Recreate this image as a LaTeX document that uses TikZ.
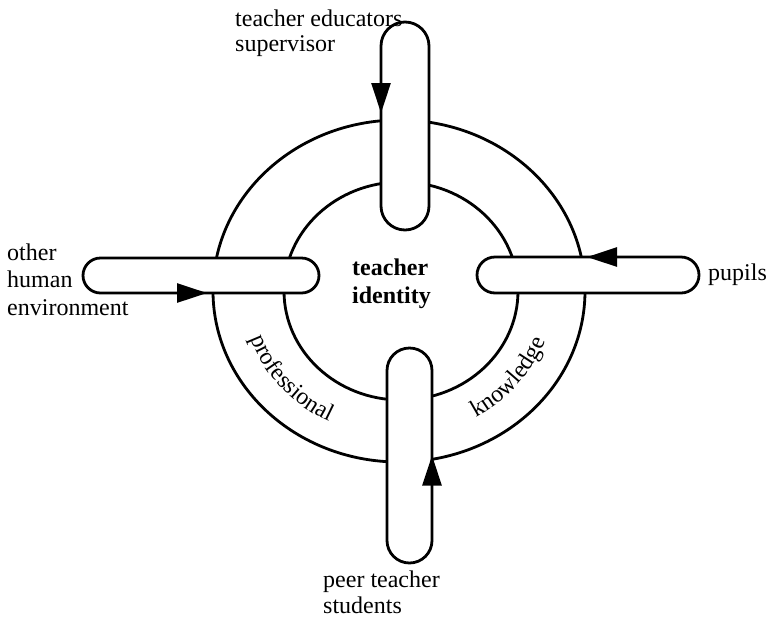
\documentclass[tikz,border=0pt]{standalone}
\usepackage{fontspec}
\setmainfont{Liberation Serif}
\usepackage{tikz}
\usetikzlibrary{arrows.meta,decorations.text}

\newcommand{\curvefont}{\fontsize{24}{24}\selectfont}

\tikzset{
  pill/.style={draw=black,fill=white,line width=2.8pt,rounded corners=#1,inner sep=0pt,outer sep=0pt},
  flow/.style={-{Triangle[length=30pt,width=19pt]},line width=2.8pt},
  lbl/.style={inner sep=0pt,align=left,anchor=north west}
}

\begin{document}
\begin{tikzpicture}[x=1pt,y=1pt]
    \useasboundingbox (0,0) rectangle (773,-622);
    \coordinate (c) at (399,-291);
    \coordinate (ci) at (401,-291);
    % ring
    \draw[line width=2.8pt] (c) ellipse [x radius=186, y radius=171];
    \draw[line width=2.8pt] (ci) ellipse [x radius=117, y radius=109];
    \path[decorate,decoration={text along path,text align=center,text={|\curvefont|professional}}]
        ([shift={(189:157 and 146)}]c) arc [start angle=189, end angle=253, x radius=157, y radius=146];
    \path[decorate,decoration={text along path,text align=center,text={|\curvefont|knowledge}}]
        ([shift={(-72:156 and 145)}]c) arc [start angle=-72, end angle=-8, x radius=156, y radius=145];
    % the four pills
    \node[pill=24pt,minimum width=48pt,minimum height=208pt] (sup) at (405,-126) {};
    \node[pill=17.5pt,minimum width=236pt,minimum height=35pt] (env) at (201,-275.5) {};
    \node[pill=18pt,minimum width=222pt,minimum height=36pt] (pup) at (588,-275) {};
    \node[pill=22.5pt,minimum width=45pt,minimum height=215pt] (peer) at (409.5,-455.5) {};
    \path [flow] ([yshift=43pt]sup.west) edge ([yshift=13pt]sup.west);
    \path [flow] ([xshift=-28pt]env.south) edge ([xshift=6pt]env.south);
    \path [flow] ([xshift=27pt]pup.north) edge ([xshift=-1pt]pup.north);
    \path [flow] ([yshift=-35pt]peer.east) edge (peer.east);
    % labels
    \node[lbl,font=\fontsize{24}{25}\selectfont] (edutext) at (235,-9.5) {teacher educators\\supervisor};
    \node[lbl,font=\fontsize{24}{27.5}\selectfont] (envtext) at (7,-243.6) {other\\human\\environment};
    \node[inner sep=0pt,anchor=base west,font=\fontsize{24}{24}\selectfont] (puptext) at (708,-280) {pupils};
    \node[lbl,font=\fontsize{24}{26}\selectfont] (peertext) at (323,-570.6) {peer teacher\\students};
    \node[lbl,font=\fontsize{24}{28}\selectfont\bfseries] (idtext) at (352,-258.8) {teacher\\identity};
\end{tikzpicture}
\end{document}
